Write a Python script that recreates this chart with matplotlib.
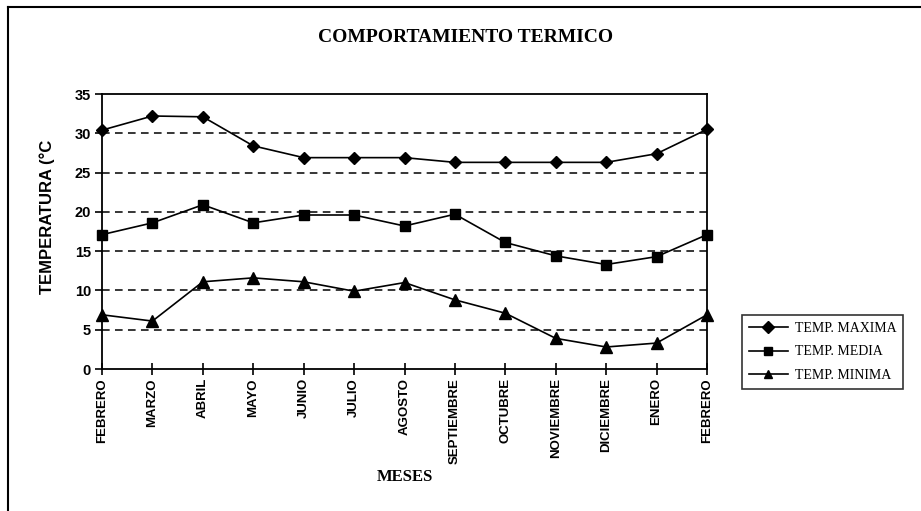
import matplotlib
matplotlib.use("Agg")
import matplotlib.pyplot as plt
from matplotlib.lines import Line2D

months = ["FEBRERO", "MARZO", "ABRIL", "MAYO", "JUNIO", "JULIO", "AGOSTO",
          "SEPTIEMBRE", "OCTUBRE", "NOVIEMBRE", "DICIEMBRE", "ENERO", "FEBRERO"]
temp_max = [30.4, 32.2, 32.1, 28.4, 26.9, 26.9, 26.9, 26.3, 26.3, 26.3, 26.3, 27.4, 30.5]
temp_media = [17.1, 18.6, 20.9, 18.6, 19.6, 19.6, 18.2, 19.7, 16.1, 14.4, 13.3, 14.3, 17.1]
temp_min = [6.9, 6.1, 11.1, 11.6, 11.1, 9.9, 11.0, 8.8, 7.1, 3.9, 2.8, 3.3, 6.9]
yticks = [0, 5, 10, 15, 20, 25, 30, 35]

W, H = 921, 511
fig = plt.figure(figsize=(W / 100, H / 100), dpi=100)
fig.patch.set_facecolor("white")

sans = ["Liberation Sans", "DejaVu Sans"]
serif = ["Liberation Serif", "DejaVu Serif"]

ax = fig.add_axes([102 / W, 1 - 369 / H, (707 - 102) / W, (369 - 94) / H])
x = list(range(len(months)))

ax.plot(x, temp_max, color="black", lw=1.2, marker="D", ms=6.5, label="TEMP. MAXIMA", clip_on=False, zorder=3)
ax.plot(x, temp_media, color="black", lw=1.2, marker="s", ms=7, label="TEMP. MEDIA", clip_on=False, zorder=3)
ax.plot(x, temp_min, color="black", lw=1.2, marker="^", ms=8, label="TEMP. MINIMA", clip_on=False, zorder=3)

ax.set_xlim(0, len(months) - 1)
ax.set_ylim(0, 35)
ax.set_yticks(yticks)
ax.set_xticks(x)
ax.set_xticklabels(months, rotation=90, fontfamily=sans, fontweight="bold", fontsize=9.5)
ax.set_yticklabels([str(v) for v in yticks], fontfamily=sans, fontweight="bold", fontsize=10.5)

for v in yticks[1:-1]:
    ax.axhline(v, color="black", lw=1.1, ls=(0, (5, 3.5)), zorder=1)

for s in ax.spines.values():
    s.set_color("black")
    s.set_linewidth(1.3)

ax.tick_params(axis="x", direction="inout", length=9, width=1.2, pad=2)
ax.tick_params(axis="y", direction="out", length=5, width=1.2, pad=3)

fig.text(466 / W, 1 - 38 / H, "COMPORTAMIENTO TERMICO", ha="center", va="center",
         fontfamily=serif, fontweight="bold", fontsize=14)
fig.text(405 / W, 1 - 477 / H, "MESES", ha="center", va="center",
         fontfamily=serif, fontweight="bold", fontsize=12)
fig.text(47 / W, 1 - 217 / H, "TEMPERATURA (°C", ha="center", va="center", rotation=90,
         fontfamily=sans, fontweight="bold", fontsize=12)

leg = ax.legend(loc="upper left", bbox_to_anchor=(742 / W, 1 - 315 / H), bbox_transform=fig.transFigure,
                frameon=True, fancybox=False, edgecolor="black", borderpad=0.5, labelspacing=0.75,
                handlelength=2.8, handletextpad=0.5, borderaxespad=0,
                prop={"family": serif, "size": 10})
leg.get_frame().set_linewidth(1.2)
for h in leg.legend_handles:
    h.set_markersize(6)

fig.add_artist(Line2D([8 / W, 8 / W], [0, 1 - 7 / H], transform=fig.transFigure, color="black", lw=1.5))
fig.add_artist(Line2D([8 / W, 1], [1 - 7 / H, 1 - 7 / H], transform=fig.transFigure, color="black", lw=1.5))

fig.savefig("out.png", dpi=100, facecolor="white")
